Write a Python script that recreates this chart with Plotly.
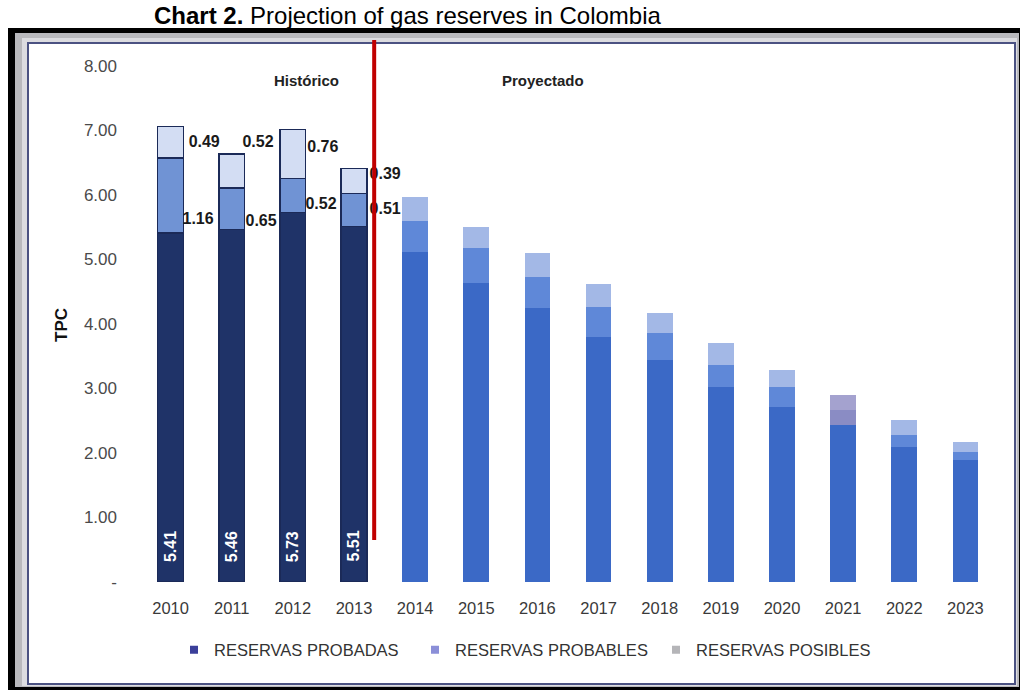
import plotly.graph_objects as go

# ---- data (TPC) ----
years = ["2010", "2011", "2012", "2013", "2014", "2015", "2016",
         "2017", "2018", "2019", "2020", "2021", "2022", "2023"]
probadas = [5.41, 5.46, 5.73, 5.51, 5.12, 4.64, 4.25, 3.80, 3.44, 3.02, 2.71, 2.43, 2.09, 1.89]
probables = [1.16, 0.65, 0.52, 0.51, 0.48, 0.54, 0.48, 0.46, 0.42, 0.34, 0.31, 0.24, 0.19, 0.13]
posibles = [0.49, 0.52, 0.76, 0.39, 0.37, 0.32, 0.37, 0.36, 0.31, 0.35, 0.27, 0.23, 0.23, 0.15]
n_hist = 4  # 2010-2013 are historical, the rest projected
y_ticks = [0, 1, 2, 3, 4, 5, 6, 7, 8]
y_ticktext = ["-", "1.00", "2.00", "3.00", "4.00", "5.00", "6.00", "7.00", "8.00"]

# placement of the side value labels of the historical bars (x offset from index, y position)
side_lbl_x = [0.55, 0.45, 1.43, 1.48, 2.49, 2.46, 3.51, 3.51]
side_lbl_y = [6.81, 5.61, 6.81, 5.58, 6.73, 5.84, 6.31, 5.77]
side_lbl_val = [posibles[0], probables[0], posibles[1], probables[1],
                posibles[2], probables[2], posibles[3], probables[3]]

# ---- geometry helpers (pixel -> paper) ----
W, H = 1020, 690
ML, MR, MT, MB = 140, 24, 40, 108
PW, PH = W - ML - MR, H - MT - MB


def px(x):
    return (x - ML) / PW


def py(y):
    return (H - MB - y) / PH


ARIAL = "Liberation Sans, Arial, sans-serif"

idx = list(range(len(years)))
hist = [i < n_hist for i in idx]

c_prob = ["#1f3368" if h else "#3b69c6" for h in hist]
c_pbl = ["#7093d4" if h else "#5f88d8" for h in hist]
c_pos = ["#d3ddf3" if h else "#a3b8e6" for h in hist]
c_pbl[11] = "#8a8cc4"
c_pos[11] = "#a4a2cf"
line_w = [1.5 if h else 0 for h in hist]

fig = go.Figure()
for vals, cols, name in [(probadas, c_prob, "RESERVAS PROBADAS"),
                         (probables, c_pbl, "RESERVAS PROBABLES"),
                         (posibles, c_pos, "RESERVAS POSIBLES")]:
    fig.add_trace(go.Bar(
        x=idx, y=vals, name=name, showlegend=False, width=0.42,
        marker=dict(color=cols, line=dict(color="#1b2a58", width=line_w)),
        hoverinfo="y",
    ))

# legend entries
for name, col in [("RESERVAS PROBADAS", "#3b3f9a"),
                  ("RESERVAS PROBABLES", "#8b8fd8"),
                  ("RESERVAS POSIBLES", "#b5b5b8")]:
    fig.add_trace(go.Scatter(
        x=[None], y=[None], mode="markers", name=name,
        marker=dict(symbol="square", size=8, color=col),
    ))

# side value labels of historical segments (drawn under the divider line)
fig.add_trace(go.Scatter(
    x=side_lbl_x, y=side_lbl_y, mode="text",
    text=[f"{v:.2f}" for v in side_lbl_val],
    textfont=dict(family=ARIAL, size=16, color="#1a1a1a", weight="bold"),
    textposition="middle center", showlegend=False, hoverinfo="skip",
))

# rotated white labels inside the historical proven bars
for i in range(n_hist):
    fig.add_annotation(
        x=i, y=0.55, text=f"<b>{probadas[i]:.2f}</b>", textangle=-90,
        showarrow=False, font=dict(family=ARIAL, size=16, color="white"),
    )

# section headings
fig.add_annotation(x=px(306), y=py(81), xref="paper", yref="paper",
                   xanchor="center", yanchor="middle",
                   text="<b>Histórico</b>", showarrow=False,
                   font=dict(family=ARIAL, size=15, color="#222"))
fig.add_annotation(x=px(543), y=py(81), xref="paper", yref="paper",
                   xanchor="center", yanchor="middle",
                   text="<b>Proyectado</b>", showarrow=False,
                   font=dict(family=ARIAL, size=15, color="#222"))

# axis title
fig.add_annotation(x=px(61), y=py(325), xref="paper", yref="paper",
                   text="<b>TPC</b>", textangle=-90, showarrow=False,
                   xanchor="center", yanchor="middle",
                   font=dict(family=ARIAL, size=17, color="#111"))

# chart title
fig.add_annotation(x=px(152), y=py(16), xref="paper", yref="paper",
                   xanchor="left", yanchor="middle",
                   text="<b>Chart 2.</b> Projection of gas reserves in Colombia",
                   showarrow=False, font=dict(family=ARIAL, size=24, color="#000"))

# frame
shapes = [
    dict(type="rect", xref="paper", yref="paper", x0=px(8), x1=px(1022), y0=py(693), y1=py(28),
         fillcolor="#000000", line=dict(width=0), layer="below"),
    dict(type="rect", xref="paper", yref="paper", x0=px(15), x1=px(1019), y0=py(687), y1=py(33),
         fillcolor="#b9b9bd", line=dict(width=0), layer="below"),
    dict(type="rect", xref="paper", yref="paper", x0=px(22), x1=px(1017), y0=py(686), y1=py(38),
         fillcolor="#dcdce0", line=dict(width=0), layer="below"),
    dict(type="rect", xref="paper", yref="paper", x0=px(28), x1=px(1015), y0=py(684), y1=py(43),
         fillcolor="#ffffff", line=dict(color="#4b5282", width=2), layer="below"),
    # divider between historical and projected
    dict(type="line", xref="x", yref="y", x0=3.33, x1=3.33, y0=0.65, y1=8.4,
         line=dict(color="#c00000", width=4), layer="above"),
]

fig.update_layout(
    width=W, height=H,
    margin=dict(l=ML, r=MR, t=MT, b=MB),
    paper_bgcolor="white", plot_bgcolor="rgba(0,0,0,0)",
    barmode="stack", bargap=0.58,
    shapes=shapes,
    font=dict(family=ARIAL, size=16, color="#3a3a3a"),
    xaxis=dict(range=[-0.5, 13.5], tickmode="array", tickvals=idx, ticktext=years,
               showgrid=False, zeroline=False, showline=False, ticks="",
               ticklabelstandoff=14, tickfont=dict(family=ARIAL, size=16.5, color="#3a3a3a")),
    yaxis=dict(range=[0, 8.4], tickmode="array", tickvals=y_ticks, ticktext=y_ticktext,
               showgrid=False, zeroline=False, showline=False, ticks="",
               ticklabelstandoff=22, tickfont=dict(family=ARIAL, size=17, color="#4a4a4a")),
    legend=dict(orientation="h", x=px(174), y=py(650), xanchor="left", yanchor="middle",
                traceorder="normal",
                font=dict(family=ARIAL, size=16.5, color="#333"),
                entrywidth=196, bgcolor="rgba(0,0,0,0)", itemwidth=30),
    showlegend=True,
)

fig.write_html("out.html")
